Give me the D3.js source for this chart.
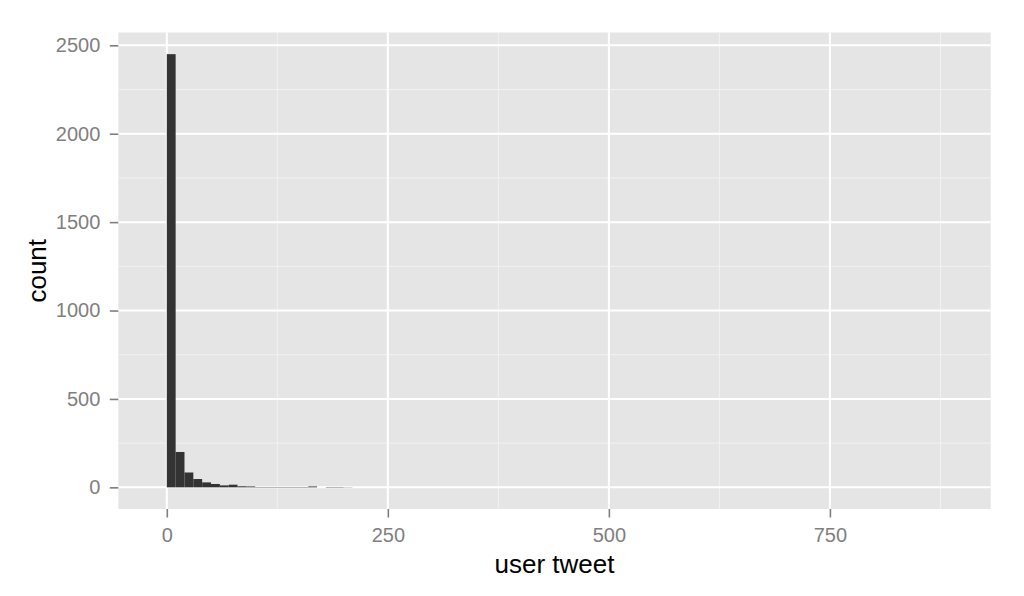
<!DOCTYPE html>
<html>
<head>
<meta charset="utf-8">
<script src="https://cdn.jsdelivr.net/npm/d3@7"></script>
<style>
  html, body { margin: 0; padding: 0; background: #ffffff; }
  svg { display: block; font-family: "Liberation Sans", Arial, Helvetica, sans-serif; }
</style>
</head>
<body>
<svg id="chart" width="1024" height="596"></svg>
<script>
// ---- data (histogram bins, binwidth 10) ----
const binStart = [0, 10, 20, 30, 40, 50, 60, 70, 80, 90, 100, 110, 120, 130, 140, 150, 160, 170, 180, 190, 200];
const binEnd   = [10, 20, 30, 40, 50, 60, 70, 80, 90, 100, 110, 120, 130, 140, 150, 160, 170, 180, 190, 200, 210];
const counts   = [2450, 200, 84, 47, 28, 19, 11, 15, 6, 5, 2, 2, 2, 2, 2, 2, 5, 0, 2, 2, 1];
const xDataRange = [-10, 887];
const xTicks = [0, 250, 500, 750];
const xMinor = [125, 375, 625, 875];
const yTicks = [0, 500, 1000, 1500, 2000, 2500];
const yMinor = [250, 750, 1250, 1750, 2250];
const xTitle = "user tweet";
const yTitle = "count";

// ---- layout ----
const panel = { left: 118.3, top: 32.5, right: 990.7, bottom: 509 };
const svg = d3.select("#chart");

const expand = (lo, hi) => { const d = (hi - lo) * 0.05; return [lo - d, hi + d]; };
const x = d3.scaleLinear().domain(expand(xDataRange[0], xDataRange[1])).range([panel.left, panel.right]);
const y = d3.scaleLinear().domain(expand(0, d3.max(counts))).range([panel.bottom, panel.top]);

// panel background
svg.append("rect")
  .attr("x", panel.left).attr("y", panel.top)
  .attr("width", panel.right - panel.left).attr("height", panel.bottom - panel.top)
  .attr("fill", "#E5E5E5");

const grid = svg.append("g");
// minor grid
grid.selectAll(".ymin").data(yMinor).join("line")
  .attr("x1", panel.left).attr("x2", panel.right)
  .attr("y1", d => y(d)).attr("y2", d => y(d))
  .attr("stroke", "#F2F2F2").attr("stroke-width", 1);
grid.selectAll(".xmin").data(xMinor).join("line")
  .attr("y1", panel.top).attr("y2", panel.bottom)
  .attr("x1", d => x(d)).attr("x2", d => x(d))
  .attr("stroke", "#F2F2F2").attr("stroke-width", 1);
// major grid
grid.selectAll(".ymaj").data(yTicks).join("line")
  .attr("x1", panel.left).attr("x2", panel.right)
  .attr("y1", d => y(d)).attr("y2", d => y(d))
  .attr("stroke", "#FFFFFF").attr("stroke-width", 2);
grid.selectAll(".xmaj").data(xTicks).join("line")
  .attr("y1", panel.top).attr("y2", panel.bottom)
  .attr("x1", d => x(d)).attr("x2", d => x(d))
  .attr("stroke", "#FFFFFF").attr("stroke-width", 2);

// bars
const bins = binStart.map((s, i) => ({ s, e: binEnd[i], c: counts[i] }));
svg.append("g").selectAll("rect").data(bins.filter(d => d.c > 0)).join("rect")
  .attr("x", d => x(d.s))
  .attr("width", d => x(d.e) - x(d.s))
  .attr("y", d => y(d.c))
  .attr("height", d => y(0) - y(d.c))
  .attr("fill", "#333333");

// axes
const tickLen = 8.5;
const xAxis = d3.axisBottom(x).tickValues(xTicks).tickSize(tickLen).tickSizeOuter(0).tickPadding(10).tickFormat(d3.format("d"));
const yAxis = d3.axisLeft(y).tickValues(yTicks).tickSize(tickLen).tickSizeOuter(0).tickPadding(9.5).tickFormat(d3.format("d"));

const gx = svg.append("g").attr("transform", `translate(0,${panel.bottom})`).call(xAxis);
const gy = svg.append("g").attr("transform", `translate(${panel.left},0)`).call(yAxis);
[gx, gy].forEach(g => {
  g.select(".domain").remove();
  g.selectAll(".tick line").attr("stroke", "#7F7F7F").attr("stroke-width", 1.6);
  g.selectAll(".tick text").attr("fill", "#7F7F7F").style("font-size", "20px")
    .style("font-family", "'Liberation Sans', Arial, Helvetica, sans-serif");
});

// titles
svg.append("text")
  .attr("x", (panel.left + panel.right) / 2).attr("y", 573)
  .attr("text-anchor", "middle").attr("fill", "#000")
  .style("font-size", "26px").text(xTitle);
svg.append("text")
  .attr("transform", `translate(46,${(panel.top + panel.bottom) / 2}) rotate(-90)`)
  .attr("text-anchor", "middle").attr("fill", "#000")
  .style("font-size", "26px").text(yTitle);
</script>
</body>
</html>
